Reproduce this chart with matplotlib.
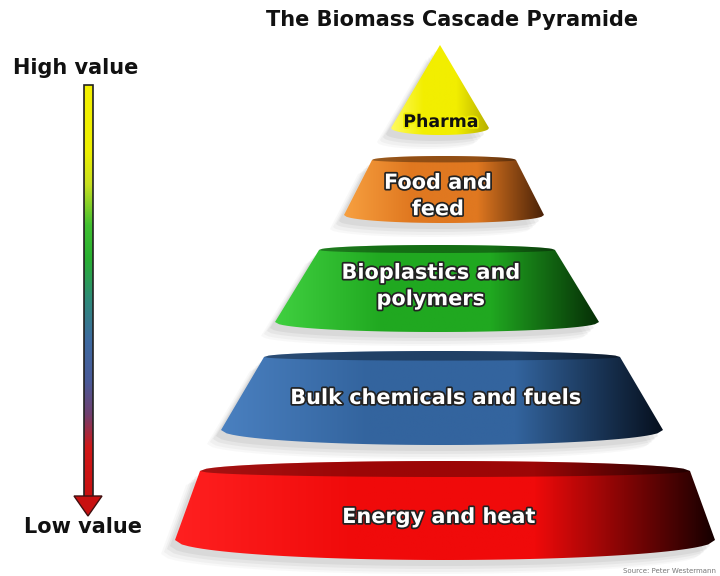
import numpy as np
import matplotlib.pyplot as plt
from matplotlib.colors import LinearSegmentedColormap
from matplotlib.patches import Polygon
import matplotlib.patheffects as pe

# Layers of the cascade, top to bottom
layers = ['Pharma', 'Food and\nfeed', 'Bioplastics and\npolymers',
          'Bulk chemicals and fuels', 'Energy and heat']
colors = [['#fffb60', '#f2ee00', '#b8b000'],
          ['#f7a040', '#e07820', '#4a2208'],
          ['#40d040', '#20a820', '#062e06'],
          ['#4a80c0', '#33649e', '#06101e'],
          ['#ff2020', '#f00a0a', '#160000']]
text_colors = ['#111111', 'white', 'white', 'white', 'white']
arrow_stops = [0.0, 0.16, 0.24, 0.34, 0.42, 0.52, 0.62, 0.72, 0.80, 0.88, 1.0]
arrow_colors = ['#f4f000', '#eef000', '#c8e020', '#40c030', '#28b030', '#2e8a78',
                '#3e6aa0', '#4a5a98', '#704070', '#d01818', '#c81010']

# geometry in pixels: centre x, top half width, top y, top bulge, bottom half width, bottom y, bottom bulge
cx = [440, 444, 437, 442, 445]
top_hw = [0, 72, 118, 178, 245]
top_y = [45, 160, 250, 357, 471]
top_b = [0, 4, 5, 6, 10]
bot_hw = [49, 100, 162, 221, 270]
bot_y = [128, 215, 322, 430, 540]
bot_b = [7, 8, 10, 15, 20]
label_y = [122, 196, 286, 398, 517]

fig = plt.figure(figsize=(7.2, 5.76), dpi=100)
ax = fig.add_axes([0, 0, 1, 1])
ax.set_xlim(0, 720)
ax.set_ylim(576, 0)
ax.axis('off')


def layer_outline(i):
    t = np.linspace(-1, 1, 80)
    if top_hw[i] == 0:
        top = np.array([[cx[i], top_y[i]]])
    else:
        top = np.column_stack([cx[i] + t * top_hw[i],
                               top_y[i] - top_b[i] * np.sqrt(1 - t ** 2)])
    bot = np.column_stack([cx[i] - t * bot_hw[i],
                           bot_y[i] + bot_b[i] * np.sqrt(1 - t ** 2)])
    return np.vstack([top, bot])


for i, name in enumerate(layers):
    pts = layer_outline(i)
    # soft shadow
    for dx, dy, a in [(-14, 14, 0.04), (-11, 12, 0.05), (-8, 9, 0.07), (-5, 6, 0.09)]:
        ax.add_patch(Polygon(pts + [dx, dy], closed=True, fc='#606060',
                             ec='none', alpha=a, zorder=1))
    poly = Polygon(pts, closed=True, fc='none', ec='none', zorder=2)
    ax.add_patch(poly)
    cmap = LinearSegmentedColormap.from_list('l%d' % i, [colors[i][0], colors[i][1], colors[i][1], colors[i][2]])
    grad = np.linspace(0, 1, 256).reshape(1, -1)
    x0 = cx[i] - max(top_hw[i], bot_hw[i])
    x1 = cx[i] + max(top_hw[i], bot_hw[i])
    im = ax.imshow(grad, cmap=cmap, aspect='auto', zorder=3,
                   extent=[x0, x1, bot_y[i] + bot_b[i], top_y[i] - top_b[i] - 1])
    im.set_clip_path(poly)
    # darker top surface
    if top_hw[i] > 0:
        t = np.linspace(-1, 1, 80)
        rim = np.vstack([np.column_stack([cx[i] + t * top_hw[i], top_y[i] - top_b[i] * np.sqrt(1 - t ** 2)]),
                         np.column_stack([cx[i] - t * top_hw[i], top_y[i] + 0.6 * top_b[i] * np.sqrt(1 - t ** 2)])])
        ax.add_patch(Polygon(rim, closed=True, fc='black', ec='none', alpha=0.35, zorder=4))
    fs = 15 if i > 0 else 12.5
    ax.text(cx[i] - 6 if i > 0 else cx[i] + 1, label_y[i], name, ha='center', va='center',
            color=text_colors[i], fontsize=fs, fontweight='bold', linespacing=1.4, zorder=6,
            path_effects=[pe.withStroke(linewidth=2.5, foreground='#222222' if i > 0 else '#f2ee00')])

# value arrow
bar = Polygon([[84, 85], [93, 85], [93, 497], [84, 497]], closed=True, fc='none', ec='none')
ax.add_patch(bar)
acmap = LinearSegmentedColormap.from_list('arrow', list(zip(arrow_stops, arrow_colors)))
im = ax.imshow(np.linspace(0, 1, 256).reshape(-1, 1), cmap=acmap, aspect='auto',
               extent=[84, 93, 497, 85], zorder=3)
im.set_clip_path(bar)
ax.add_patch(Polygon([[84, 85], [93, 85], [93, 497], [84, 497]], closed=True, fc='none',
                     ec='#222222', lw=1.2, zorder=4))
ax.add_patch(Polygon([[74, 496], [102, 496], [88, 516]], closed=True, fc='#c81010',
                     ec='#401010', lw=1, zorder=4))

ax.text(76, 68, 'High value', ha='center', va='center', fontsize=15, fontweight='bold',
        color='#111111')
ax.text(83, 527, 'Low value', ha='center', va='center', fontsize=15, fontweight='bold',
        color='#111111')
ax.text(452, 20, 'The Biomass Cascade Pyramide', ha='center', va='center', fontsize=15,
        fontweight='bold', color='#111111')
ax.text(716, 571, 'Source: Peter Westermann', ha='right', va='center', fontsize=5,
        color='#777777')

fig.savefig('out.png', dpi=100)
